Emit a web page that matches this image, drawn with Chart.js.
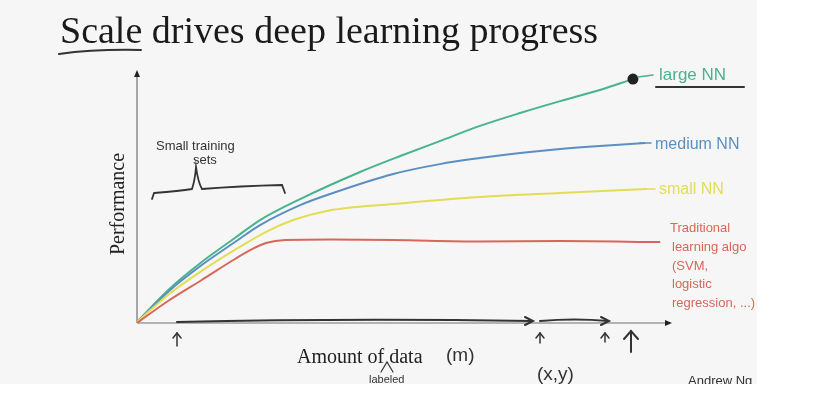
<!DOCTYPE html>
<html><head><meta charset="utf-8">
<script src="https://cdn.jsdelivr.net/npm/chart.js@4/dist/chart.umd.min.js"></script>
<style>html,body{margin:0;padding:0;background:#fff;}#wrap{width:836px;height:402px;position:relative}</style>
</head><body><div id="wrap"><canvas id="c" width="836" height="402"></canvas></div>
<script>
// Amount of data (0-100, relative) and performance (0-100, relative)
const largeX  = [0, 5.8, 12.1, 18.3, 23.0, 30.5, 41.7, 49.2, 56.6, 64.1, 71.6, 79.1, 86.5, 92.7];
const largeY  = [0.4, 13.0, 24.1, 33.6, 40.7, 49.0, 59.7, 66.0, 71.9, 77.9, 83.0, 87.7, 92.1, 96.4];
const mediumX = [0, 5.8, 12.1, 18.3, 23.0, 30.5, 36.1, 47.9, 56.6, 64.1, 71.6, 79.1, 86.5, 95.0];
const mediumY = [0.4, 12.3, 22.9, 32.0, 38.7, 46.6, 51.0, 58.9, 62.8, 65.2, 67.2, 68.8, 70.0, 71.1];
const smallX  = [0, 5.8, 12.1, 18.3, 24.5, 29.2, 35.5, 47.9, 64.1, 79.1, 95.3];
const smallY  = [0.4, 11.1, 20.6, 28.9, 36.4, 40.7, 44.3, 47.0, 49.8, 51.4, 53.0];
const tradX   = [0, 5.8, 12.1, 18.3, 21.5, 24.1, 27.7, 36.1, 47.9, 64.1, 79.1, 97.8];
const tradY   = [0, 8.7, 17.0, 25.3, 29.2, 31.6, 32.8, 33.0, 32.8, 32.2, 32.4, 32.0];
const seriesNames = ['large NN', 'medium NN', 'small NN', 'Traditional learning algo'];
const tradLabelLines = ['Traditional', 'learning algo', '(SVM,', 'logistic', 'regression, ...)'];

const pts = (xs, ys) => xs.map((x, i) => ({x, y: ys[i]}));
const GREEN = '#48b48e', BLUE = '#5b8fc2', YELLOW = '#e3dd55', RED = '#d8675a', INK = '#333';

const decor = {
  id: 'decor',
  beforeDraw(chart) {
    const ctx = chart.ctx;
    ctx.save();
    ctx.fillStyle = '#fff';
    ctx.fillRect(0, 0, chart.width, chart.height);
    ctx.fillStyle = '#f6f6f6';
    ctx.fillRect(0, 0, 757, 384);
    ctx.restore();
  },
  beforeDatasetsDraw(chart) {
    const ctx = chart.ctx, xs = chart.scales.x, ys = chart.scales.y;
    const x0 = xs.getPixelForValue(0), y0 = ys.getPixelForValue(0);
    const xEnd = xs.getPixelForValue(100), yTop = ys.getPixelForValue(100);
    ctx.save();
    ctx.strokeStyle = '#707070'; ctx.fillStyle = '#222'; ctx.lineWidth = 1.2;
    ctx.beginPath(); ctx.moveTo(x0, y0); ctx.lineTo(x0, yTop + 4); ctx.stroke();
    ctx.beginPath(); ctx.moveTo(x0, yTop); ctx.lineTo(x0 - 3, yTop + 7); ctx.lineTo(x0 + 3, yTop + 7); ctx.closePath(); ctx.fill();
    ctx.beginPath(); ctx.moveTo(x0, y0); ctx.lineTo(xEnd - 4, y0); ctx.stroke();
    ctx.beginPath(); ctx.moveTo(xEnd, y0); ctx.lineTo(xEnd - 7, y0 - 3); ctx.lineTo(xEnd - 7, y0 + 3); ctx.closePath(); ctx.fill();
    ctx.restore();
  },
  afterDraw(chart) {
    const ctx = chart.ctx;
    ctx.save();
    ctx.beginPath(); ctx.rect(0, 0, 757, 384); ctx.clip();
    // Title
    ctx.fillStyle = '#1a1a1a';
    ctx.font = '38px "Liberation Serif", "DejaVu Serif", serif';
    ctx.textBaseline = 'alphabetic'; ctx.textAlign = 'left';
    ctx.fillText('Scale drives deep learning progress', 60, 43);
    // underline under Scale
    ctx.strokeStyle = INK; ctx.lineWidth = 2; ctx.lineCap = 'round';
    ctx.beginPath(); ctx.moveTo(59, 54); ctx.quadraticCurveTo(95, 49, 141, 50); ctx.stroke();
    // Axis titles
    ctx.font = '20px "Liberation Serif", serif';
    ctx.fillStyle = '#222';
    ctx.save(); ctx.translate(124, 204); ctx.rotate(-Math.PI / 2);
    ctx.textAlign = 'center'; ctx.fillText('Performance', 0, 0); ctx.restore();
    ctx.textAlign = 'left';
    ctx.fillText('Amount of data', 297, 363);
    // handwriting
    const hand = (t, x, y, size, color) => { ctx.font = size + 'px "Liberation Sans", sans-serif'; ctx.fillStyle = color; ctx.fillText(t, x, y); };
    hand('(m)', 446, 361, 19, INK);
    hand('(x,y)', 537, 380, 19, INK);
    hand('labeled', 369, 383, 11, INK);
    hand('Small training', 156, 150, 13, INK);
    hand('sets', 193, 164, 13, INK);
    // caret under "of data"
    ctx.strokeStyle = INK; ctx.lineWidth = 1.2;
    ctx.beginPath(); ctx.moveTo(381, 372); ctx.lineTo(387, 362); ctx.lineTo(393, 372); ctx.stroke();
    // brace
    ctx.lineWidth = 1.8;
    ctx.beginPath(); ctx.moveTo(152, 199); ctx.lineTo(154, 193); ctx.quadraticCurveTo(180, 191, 192, 189);
    ctx.quadraticCurveTo(195, 180, 196, 167); ctx.quadraticCurveTo(198, 182, 202, 189);
    ctx.quadraticCurveTo(240, 186, 282, 185); ctx.lineTo(285, 193); ctx.stroke();
    // hand arrows along x axis
    ctx.lineWidth = 2;
    ctx.beginPath(); ctx.moveTo(177, 322); ctx.quadraticCurveTo(350, 318, 532, 321); ctx.stroke();
    ctx.beginPath(); ctx.moveTo(525, 317); ctx.lineTo(533, 321); ctx.lineTo(525, 325); ctx.stroke();
    ctx.beginPath(); ctx.moveTo(540, 321); ctx.quadraticCurveTo(575, 318, 608, 321); ctx.stroke();
    ctx.beginPath(); ctx.moveTo(601, 317); ctx.lineTo(609, 321); ctx.lineTo(601, 325); ctx.stroke();
    // up arrows
    const up = (x, yTop, yBot, w) => {
      ctx.beginPath(); ctx.moveTo(x, yBot); ctx.lineTo(x, yTop); ctx.stroke();
      ctx.beginPath(); ctx.moveTo(x - w, yTop + w + 1); ctx.lineTo(x, yTop); ctx.lineTo(x + w, yTop + w + 1); ctx.stroke();
    };
    ctx.lineWidth = 1.5;
    up(177, 333, 346, 4); up(540, 333, 343, 4); up(605, 333, 342, 4);
    ctx.lineWidth = 2; up(631, 331, 352, 7);
    // Andrew Ng
    ctx.font = '13px "Liberation Sans", sans-serif'; ctx.fillStyle = '#333';
    ctx.fillText('Andrew Ng', 688, 385);
    // series labels
    ctx.lineWidth = 1.5;
    ctx.strokeStyle = GREEN; ctx.beginPath(); ctx.moveTo(638, 77); ctx.lineTo(653, 75); ctx.stroke();
    hand(seriesNames[0], 659, 80, 17, GREEN);
    ctx.strokeStyle = INK; ctx.lineWidth = 2;
    ctx.beginPath(); ctx.moveTo(656, 87); ctx.lineTo(744, 87); ctx.stroke();
    ctx.lineWidth = 1.5;
    ctx.strokeStyle = BLUE; ctx.beginPath(); ctx.moveTo(640, 143); ctx.lineTo(651, 143); ctx.stroke();
    hand(seriesNames[1], 655, 149, 16, BLUE);
    ctx.strokeStyle = YELLOW; ctx.beginPath(); ctx.moveTo(645, 189); ctx.lineTo(655, 189); ctx.stroke();
    hand(seriesNames[2], 659, 194, 16, YELLOW);
    const ly = [232, 251, 270, 288, 307];
    tradLabelLines.forEach((t, i) => hand(t, i === 0 ? 670 : 672, ly[i], 13, RED));
    ctx.restore();
  }
};

const ds = (label, xs, ys, color, extra = {}) => Object.assign({
  label, data: pts(xs, ys), borderColor: color, backgroundColor: color,
  borderWidth: 2, pointRadius: 0, cubicInterpolationMode: 'monotone', fill: false
}, extra);

new Chart(document.getElementById('c'), {
  type: 'line',
  data: {
    datasets: [
      ds(seriesNames[3], tradX, tradY, RED),
      ds(seriesNames[2], smallX, smallY, YELLOW),
      ds(seriesNames[1], mediumX, mediumY, BLUE),
      ds(seriesNames[0], largeX, largeY, GREEN, {
        pointRadius: c => c.dataIndex === largeX.length - 1 ? 4.5 : 0,
        pointBackgroundColor: '#222', pointBorderColor: '#222'
      })
    ]
  },
  options: {
    responsive: false, animation: false, devicePixelRatio: 1,
    layout: { padding: { left: 137, right: 164, top: 70, bottom: 79 } },
    scales: {
      x: { type: 'linear', min: 0, max: 100, display: false },
      y: { min: 0, max: 100, display: false }
    },
    plugins: { legend: { display: false }, tooltip: { enabled: false } }
  },
  plugins: [decor]
});
</script>
</body></html>
